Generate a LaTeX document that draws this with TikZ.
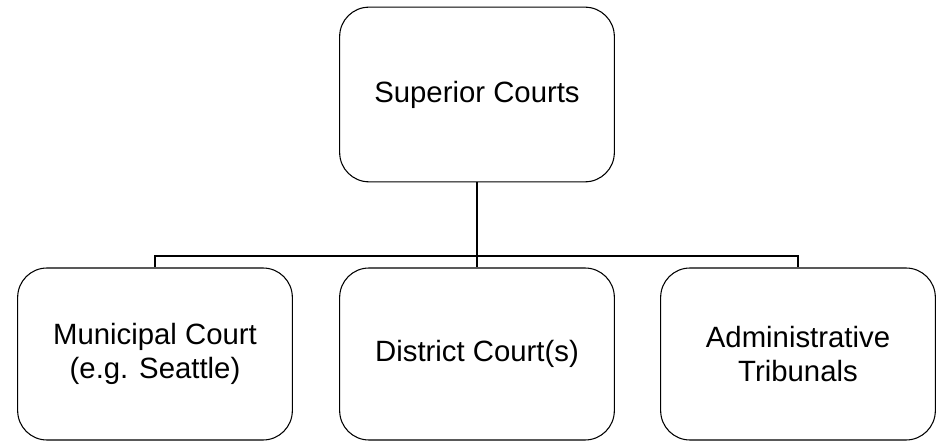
\documentclass[tikz,border=0pt]{standalone}
\usepackage{fontspec}
\setmainfont{Liberation Sans}
\begin{document}
\begin{tikzpicture}
  [x=0.75pt,y=-0.75pt,
   court/.style={draw,rounded corners=22pt,line width=0.8pt,
     minimum width=206pt,minimum height=129pt,inner sep=0pt,
     align=center,font=\fontsize{22}{26}\selectfont},
   conn/.style={line width=2.2pt}]
  \useasboundingbox (0,0) rectangle (940,442);
  \node[court,minimum height=131pt] (sup) at (477,94.5) {Superior Courts};
  \node[court] (muni) at (155,354) {Municipal Court\\(e.g. Seattle)};
  \node[court] (dist) at (477,354) {District Court(s)};
  \node[court] (admin) at (798,354) {Administrative\\Tribunals};

  \coordinate (bus) at (477,256);
  \draw[conn] (sup.south) -- (bus);
  \foreach \to in {muni,dist,admin}
    \draw[conn] (bus) -| (\to.north);

\end{tikzpicture}
\end{document}
